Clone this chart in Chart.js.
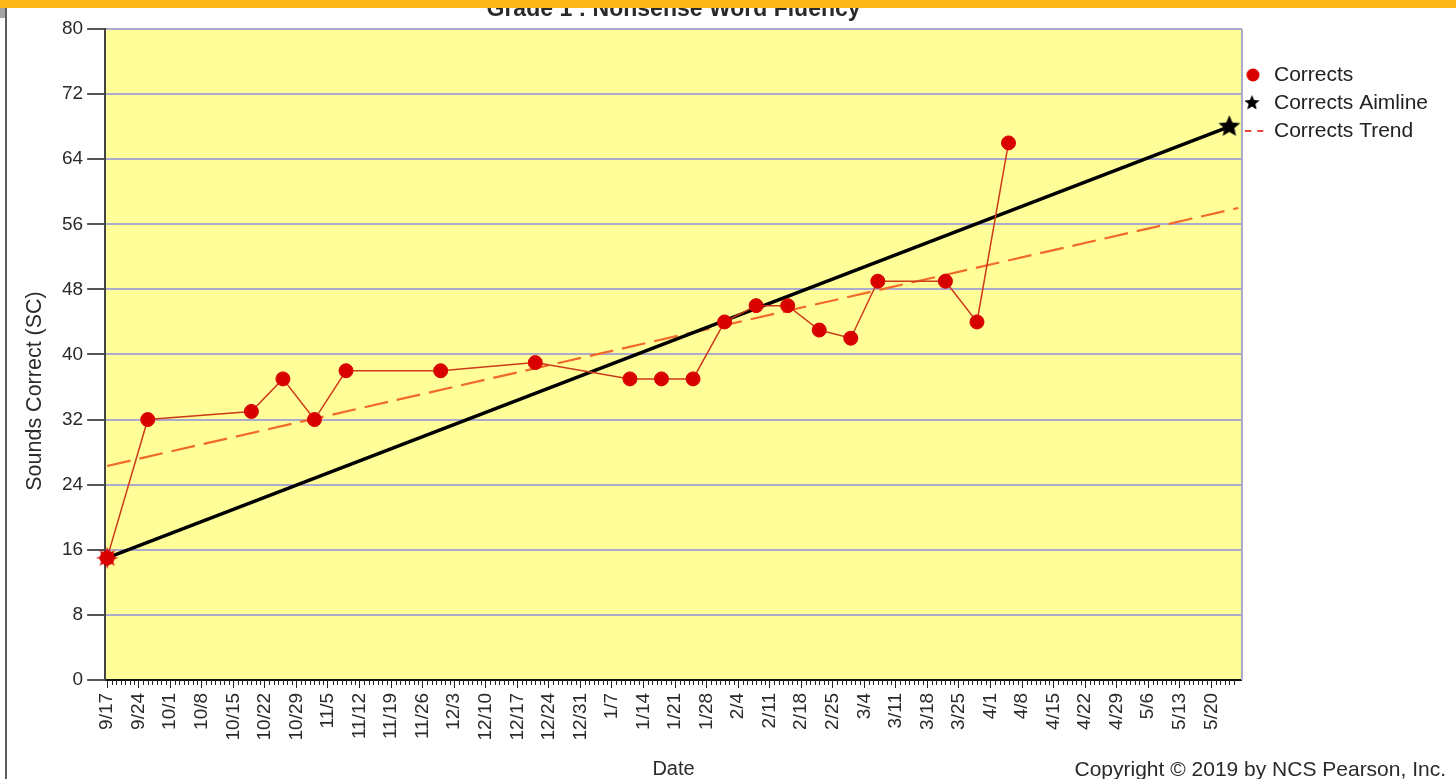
<!DOCTYPE html>
<html>
<head>
<meta charset="utf-8">
<script src="https://cdn.jsdelivr.net/npm/chart.js@4"></script>
<style>
html,body{margin:0;padding:0;background:#fff;overflow:hidden}
#wrap{position:relative;width:1456px;height:779px;background:#fff}
#c{position:absolute;left:0;top:0}
#topbar{position:absolute;left:0;top:0;width:1456px;height:8px;background:#FCB918}
#lgray{position:absolute;left:0;top:8px;width:5px;height:10px;background:#a3a3a3}
#lline{position:absolute;left:5px;top:8px;width:2px;height:771px;background:#5e5e5e}
</style>
</head>
<body>
<div id="wrap">
<canvas id="c" width="1456" height="779"></canvas>
<div id="topbar"></div><div id="lgray"></div><div id="lline"></div>
</div>
<script>
// ---------- data ----------
const chartTitle = 'Grade 1 : Nonsense Word Fluency';
const yAxisTitle = 'Sounds Correct (SC)';
const xAxisTitle = 'Date';
const copyrightText = 'Copyright \u00A9 2019 by NCS Pearson, Inc.';
const startDate = '9/17';
const weekLabels = ['9/17','9/24','10/1','10/8','10/15','10/22','10/29','11/5','11/12','11/19','11/26','12/3','12/10','12/17','12/24','12/31','1/7','1/14','1/21','1/28','2/4','2/11','2/18','2/25','3/4','3/11','3/18','3/25','4/1','4/8','4/15','4/22','4/29','5/6','5/13','5/20'];
const yTickValues = [0, 8, 16, 24, 32, 40, 48, 56, 64, 72, 80];
const correctDates  = ['9/17','9/26','10/19','10/26','11/2','11/9','11/30','12/21','1/11','1/18','1/25','2/1','2/8','2/15','2/22','3/1','3/7','3/22','3/29','4/5'];
const correctValues = [15, 32, 33, 37, 32, 38, 38, 39, 37, 37, 37, 44, 46, 46, 43, 42, 49, 49, 44, 66];
const aimDates  = ['9/17','5/24'];
const aimValues = [15, 68];
const trendDates  = ['9/17','5/26'];
const trendValues = [26.3, 58.0];
const legendNames = ['Corrects','Corrects Aimline','Corrects Trend'];

// ---------- helpers ----------
function dayIndex(s){
  const [m,d] = s.split('/').map(Number);
  const [m0,d0] = startDate.split('/').map(Number);
  const y = m >= 8 ? 2018 : 2019;
  return Math.round((Date.UTC(y, m-1, d) - Date.UTC(2018, m0-1, d0)) / 86400000);
}
function pts(dates, vals){ return dates.map((d,i)=>({x:dayIndex(d), y:vals[i]})); }
const lastDay = dayIndex('5/27');

function makeCanvas(w,h){ const c=document.createElement('canvas'); c.width=w; c.height=h; return c; }
function starPath(g,cx,cy,R,r,n){
  g.beginPath();
  for(let i=0;i<2*n;i++){
    const a=-Math.PI/2+i*Math.PI/n, rr=i%2?r:R;
    g.lineTo(cx+rr*Math.cos(a), cy+rr*Math.sin(a));
  }
  g.closePath();
}
function starImg(size,color,n,ratio){
  const c=makeCanvas(size,size), g=c.getContext('2d');
  starPath(g,size/2,size/2,size/2-0.5,(size/2-0.5)*ratio,n);
  g.fillStyle=color; g.fill(); return c;
}
const redBurst = starImg(23,'#D90000',8,0.5);
const blackStar = starImg(24,'#000000',5,0.45);

// legend markers (22px wide images)
const legDot = (()=>{const c=makeCanvas(22,16),g=c.getContext('2d');g.beginPath();g.arc(7.75,8,6.5,0,Math.PI*2);g.fillStyle='#D90000';g.fill();return c;})();
const legStar = (()=>{const c=makeCanvas(22,18),g=c.getContext('2d');starPath(g,6.75,9,8,3.6,5);g.fillStyle='#000';g.fill();return c;})();
const legDash = (()=>{const c=makeCanvas(22,6),g=c.getContext('2d');g.fillStyle='#E8443A';g.fillRect(0,2,6,2);g.fillRect(12,2,6,2);return c;})();

Chart.defaults.font.family = '"Liberation Sans", Arial, sans-serif';
Chart.defaults.color = '#2a2a2a';

const framePlugin = {
  id:'frame',
  beforeDraw(chart){
    const {ctx, chartArea:a} = chart;
    ctx.save(); ctx.fillStyle='#FFFE99'; ctx.fillRect(a.left,a.top,a.right-a.left,a.bottom-a.top); ctx.restore();
  },
  beforeDatasetsDraw(chart){
    const {ctx, chartArea:a} = chart;
    ctx.save(); ctx.strokeStyle='#ABABCB'; ctx.lineWidth=2;
    ctx.beginPath(); ctx.moveTo(a.right, a.top); ctx.lineTo(a.right, a.bottom); ctx.stroke();
    // minor day ticks
    const xs = chart.scales.x;
    ctx.strokeStyle='#222'; ctx.lineWidth=1;
    xs.ticks.forEach(t=>{
      if (t.value % 7 !== 0){
        const px = Math.round(xs.getPixelForValue(t.value))+0.5;
        ctx.beginPath(); ctx.moveTo(px, a.bottom); ctx.lineTo(px, a.bottom+5); ctx.stroke();
      }
    });
    ctx.restore();
  },
  afterDraw(chart){
    const {ctx} = chart;
    ctx.save();
    ctx.fillStyle='#2a2a2a';
    ctx.font='21px "Liberation Sans", Arial, sans-serif';
    ctx.textAlign='right'; ctx.textBaseline='alphabetic';
    ctx.fillText(copyrightText, 1446, 776);
    ctx.translate(41, 391);
    ctx.rotate(-Math.PI/2);
    ctx.textAlign='center';
    ctx.font='21.5px "Liberation Sans", Arial, sans-serif';
    ctx.fillText(yAxisTitle, 0, 0);
    ctx.restore();
  }
};

new Chart(document.getElementById('c'), {
  type:'line',
  data:{
    datasets:[
      { label:legendNames[0], data:pts(correctDates,correctValues), order:0, clip:false,
        borderColor:'#CC3A1A', borderWidth:1.5, tension:0,
        pointStyle:'circle', pointRadius:7, pointBackgroundColor:'#D90000', pointBorderColor:'#D90000', pointBorderWidth:1 },
      { label:legendNames[1], data:pts(aimDates,aimValues), order:1, clip:false,
        borderColor:'#000', borderWidth:3.5, tension:0,
        pointStyle:[redBurst, blackStar], pointRadius:10 },
      { label:legendNames[2], data:pts(trendDates,trendValues), order:2, clip:false,
        borderColor:'#F26A2A', borderWidth:2.2, borderDash:[24,9], pointRadius:0, tension:0 }
    ]
  },
  options:{
    responsive:false, animation:false, devicePixelRatio:1,
    layout:{ padding:{ left:58, right:18, top:0, bottom:0 } },
    plugins:{
      tooltip:{enabled:false},
      title:{ display:true, text:chartTitle, fullSize:false, color:'#2a2a2a',
              font:{size:23, weight:'bold', lineHeight:0.8}, padding:{top:0.6, bottom:10} },
      legend:{
        display:true, position:'right', align:'start',
        title:{ display:true, text:'', font:{size:12, lineHeight:1.2}, padding:{top:0, bottom:43.1} },
        labels:{
          usePointStyle:true, pointStyleWidth:14.5, boxHeight:16, padding:7, color:'#222',
          font:{size:21},
          generateLabels(chart){
            const items = Chart.defaults.plugins.legend.labels.generateLabels(chart);
            const imgs = [legDot, legStar, legDash];
            items.forEach((it,i)=>{ it.pointStyle = imgs[i]; it.lineDash = []; });
            return items;
          }
        }
      }
    },
    scales:{
      x:{
        type:'linear', min:-0.45, max:251.8,
        afterBuildTicks(scale){ const t=[]; for(let d=0; d<=lastDay-2; d++) t.push({value:d}); scale.ticks=t; },
        ticks:{ autoSkip:false, minRotation:90, maxRotation:90, padding:5, color:'#2a2a2a', font:{size:19},
                callback:(v)=> (v % 7 === 0 && weekLabels[v/7] !== undefined) ? weekLabels[v/7] : '' },
        grid:{ drawOnChartArea:false, tickLength:8, tickWidth:1,
               tickColor:(c)=> (c.tick && c.tick.value % 7 === 0) ? '#222' : 'rgba(0,0,0,0)' },
        border:{ display:true, color:'#111', width:2 },
        title:{ display:true, text:xAxisTitle, color:'#2a2a2a', font:{size:20, lineHeight:1.0}, padding:{top:13.5, bottom:0} }
      },
      y:{
        min:0, max:80,
        afterBuildTicks(scale){ scale.ticks = yTickValues.map(v=>({value:v})); },
        ticks:{ padding:4, color:'#2a2a2a', font:{size:19} },
        grid:{ color:'#ABABCB', lineWidth:2, tickLength:18, tickColor:'#555', tickWidth:2 },
        border:{ display:true, color:'#444', width:2 }
      }
    }
  },
  plugins:[framePlugin]
});
</script>
</body>
</html>
